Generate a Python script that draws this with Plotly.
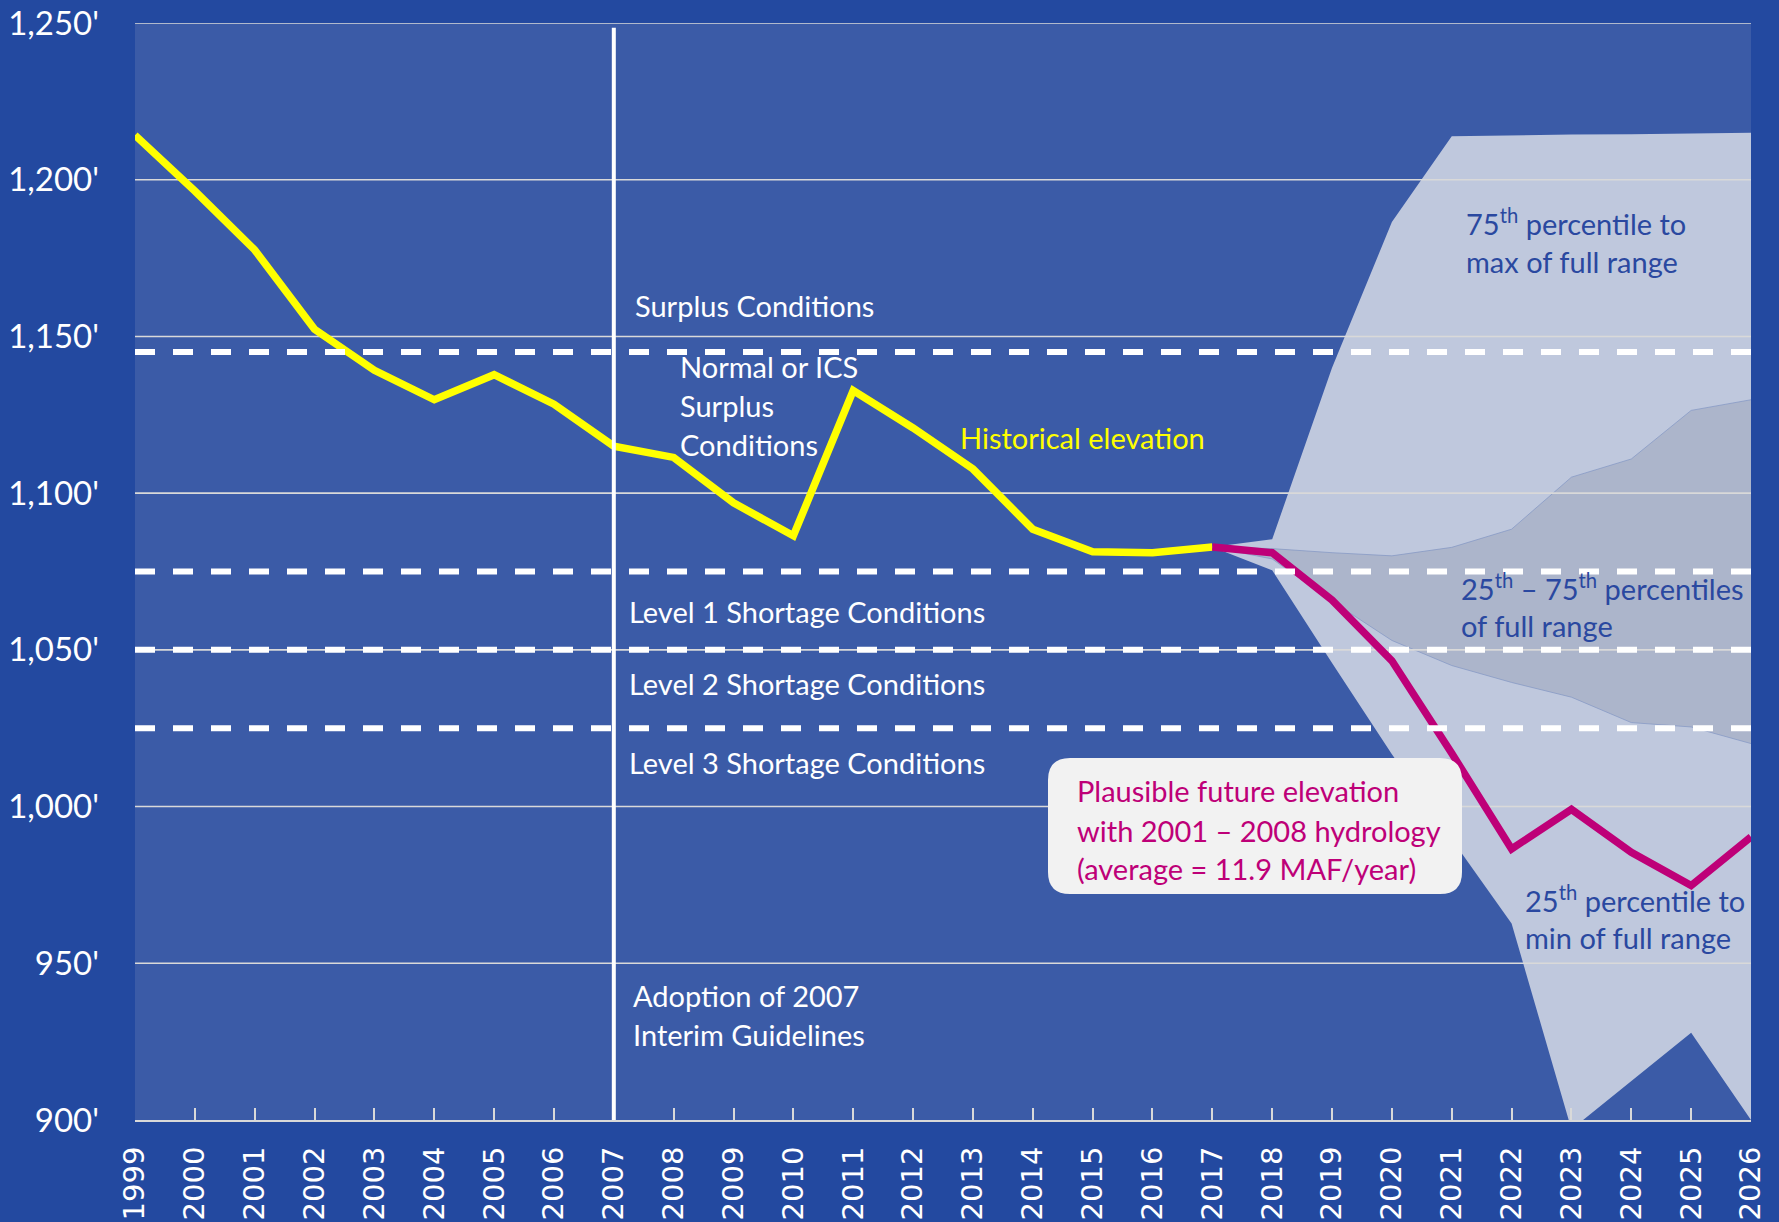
import plotly.graph_objects as go

# ---------------- data ----------------
years_all = list(range(1999, 2027))
years_hist = list(range(1999, 2018))
elev_hist = [1214.2, 1196.4, 1177.6, 1152.3, 1139.2, 1129.8, 1137.8, 1128.4, 1115.0, 1111.4,
             1096.9, 1086.4, 1132.7, 1120.8, 1107.7, 1088.5, 1081.3, 1081.0, 1082.8]
years_proj = list(range(2017, 2027))
elev_proj = [1082.8, 1081.0, 1065.9, 1046.5, 1017.0, 986.5, 999.1, 985.4, 974.8, 990.3]
range_max = [1082.8, 1085.3, 1140.0, 1186.5, 1213.9, 1214.2, 1214.4, 1214.5, 1214.8, 1215.0]
pct75 = [1082.8, 1082.3, 1081.0, 1080.0, 1082.7, 1088.5, 1105.1, 1110.9, 1126.4, 1129.8]
pct25 = [1082.8, 1079.0, 1065.5, 1053.0, 1045.0, 1039.6, 1034.9, 1026.8, 1025.4, 1020.1]
range_min = [1082.8, 1075.4, 1045.8, 1016.7, 989.6, 962.7, 897.0, 912.5, 927.8, 900.0]
thresholds = [1145, 1075, 1050, 1025]
guideline_year = 2007
y_ticks = [900, 950, 1000, 1050, 1100, 1150, 1200, 1250]
y_ticktext = ["900'", "950'", "1,000'", "1,050'", "1,100'", "1,150'", "1,200'", "1,250'"]

# ---------------- style ----------------
PAPER = "#2349A0"
PLOT = "#3B5BA7"
GRID = "#D9D9D9"
OUTER = "#BFC8DD"
INNER = "#ACB5CB"
YELLOW = "#FFFF00"
MAGENTA = "#BE0078"
DARKTXT = "#2A48A0"
TXT_FONT = "Lato"
TXT_SIZE = 29

W, H = 1779, 1222
ML, MR, MT, MB = 135, 28, 23, 102
PW, PH = W - ML - MR, H - MT - MB

fig = go.Figure()

# outer full-range band
fig.add_trace(go.Scatter(x=years_proj, y=range_min, mode="lines", line=dict(width=0),
                         hoverinfo="skip"))
fig.add_trace(go.Scatter(x=years_proj, y=range_max, mode="lines", line=dict(width=0),
                         fill="tonexty", fillcolor=OUTER, hoverinfo="skip"))
# inner 25-75 band
fig.add_trace(go.Scatter(x=years_proj, y=pct25, mode="lines",
                         line=dict(width=1, color="rgba(130,150,195,0.7)"), hoverinfo="skip"))
fig.add_trace(go.Scatter(x=years_proj, y=pct75, mode="lines",
                         line=dict(width=1, color="rgba(130,150,195,0.7)"),
                         fill="tonexty", fillcolor=INNER, hoverinfo="skip"))

# gridlines (above the bands, below the lines)
for v in y_ticks[1:]:
    fig.add_trace(go.Scatter(x=[years_all[0], years_all[-1]], y=[v, v], mode="lines",
                             line=dict(width=1.6, color=GRID), hoverinfo="skip"))

# historical and projected lines
fig.add_trace(go.Scatter(x=years_hist, y=elev_hist, mode="lines",
                         line=dict(width=7.5, color=YELLOW)))
fig.add_trace(go.Scatter(x=years_proj, y=elev_proj, mode="lines",
                         line=dict(width=7.5, color=MAGENTA)))

# dashed threshold lines
for v in thresholds:
    fig.add_shape(type="line", xref="x", yref="y", x0=years_all[0], x1=years_all[-1], y0=v, y1=v,
                  line=dict(color="white", width=6, dash="20px,18px"), layer="above")
# vertical line at adoption year
fig.add_shape(type="line", xref="x", yref="y", x0=guideline_year, x1=guideline_year,
              y0=900, y1=1248.5, line=dict(color="white", width=4), layer="above")


# rounded box for the projection label
def pp(x, y):
    return (x - ML) / PW, (H - MB - y) / PH


def rounded_box(x0, y0, x1, y1, r):
    pts = []
    a = pp(x0 + r, y0); pts.append(f"M {a[0]},{a[1]}")
    a = pp(x1 - r, y0); pts.append(f"L {a[0]},{a[1]}")
    c = pp(x1, y0); a = pp(x1, y0 + r); pts.append(f"Q {c[0]},{c[1]} {a[0]},{a[1]}")
    a = pp(x1, y1 - r); pts.append(f"L {a[0]},{a[1]}")
    c = pp(x1, y1); a = pp(x1 - r, y1); pts.append(f"Q {c[0]},{c[1]} {a[0]},{a[1]}")
    a = pp(x0 + r, y1); pts.append(f"L {a[0]},{a[1]}")
    c = pp(x0, y1); a = pp(x0, y1 - r); pts.append(f"Q {c[0]},{c[1]} {a[0]},{a[1]}")
    a = pp(x0, y0 + r); pts.append(f"L {a[0]},{a[1]}")
    c = pp(x0, y0); a = pp(x0 + r, y0); pts.append(f"Q {c[0]},{c[1]} {a[0]},{a[1]}")
    pts.append("Z")
    return " ".join(pts)


fig.add_shape(type="path", xref="paper", yref="paper", path=rounded_box(1048, 758, 1462, 894, 22),
              fillcolor="#F2F2F2", line=dict(width=0), layer="above")


def label(x, y, text, color="white"):
    fig.add_annotation(x=x, y=y, xref="x", yref="y", text=text, showarrow=False,
                       xanchor="left", yanchor="middle",
                       font=dict(family=TXT_FONT, size=TXT_SIZE, color=color))


label(2007.32, 1159.9, "Surplus Conditions")
label(2008.07, 1140.4, "Normal or ICS")
label(2008.07, 1128.0, "Surplus")
label(2008.07, 1115.5, "Conditions")
label(2012.75, 1117.8, "Historical elevation", YELLOW)
label(2007.22, 1062.1, "Level 1 Shortage Conditions")
label(2007.22, 1039.2, "Level 2 Shortage Conditions")
label(2007.22, 1014.2, "Level 3 Shortage Conditions")
label(2007.29, 939.8, "Adoption of 2007")
label(2007.29, 927.4, "Interim Guidelines")
label(2021.20, 1186.4, "75<sup>th</sup> percentile to", DARKTXT)
label(2021.20, 1174.0, "max of full range", DARKTXT)
label(2021.12, 1070.0, "25<sup>th</sup> – 75<sup>th</sup> percentiles", DARKTXT)
label(2021.12, 1057.9, "of full range", DARKTXT)
label(2022.19, 970.4, "25<sup>th</sup> percentile to", DARKTXT)
label(2022.19, 958.3, "min of full range", DARKTXT)
label(2014.71, 1005.2, "Plausible future elevation", MAGENTA)
label(2014.71, 992.4, "with 2001 – 2008 hydrology", MAGENTA)
label(2014.71, 980.3, "(average = 11.9 MAF/year)", MAGENTA)

fig.update_layout(
    width=W, height=H,
    margin=dict(l=ML, r=MR, t=MT, b=MB, autoexpand=False),
    paper_bgcolor=PAPER, plot_bgcolor=PLOT,
    showlegend=False,
    font=dict(family=TXT_FONT, color="white"),
)
fig.update_xaxes(range=[years_all[0], years_all[-1]], tickmode="array", tickvals=years_all,
                 ticktext=[str(y) for y in years_all], tickangle=-90,
                 tickfont=dict(family="DejaVu Sans", size=29, color="white"),
                 showgrid=False, zeroline=False, showline=True, linecolor=GRID, linewidth=2,
                 ticks="inside", ticklen=12, tickcolor=GRID, tickwidth=2,
                 ticklabelstandoff=13, layer="above traces", automargin=False)
fig.update_yaxes(range=[900, 1250], tickmode="array", tickvals=y_ticks, ticktext=y_ticktext,
                 tickfont=dict(family=TXT_FONT, size=33, color="white"),
                 showgrid=False, zeroline=False, showline=False, ticks="",
                 ticklabelstandoff=35, automargin=False)

fig.write_html("out.html", config={"displayModeBar": False},
               post_script="document.body.style.margin='0px';")
